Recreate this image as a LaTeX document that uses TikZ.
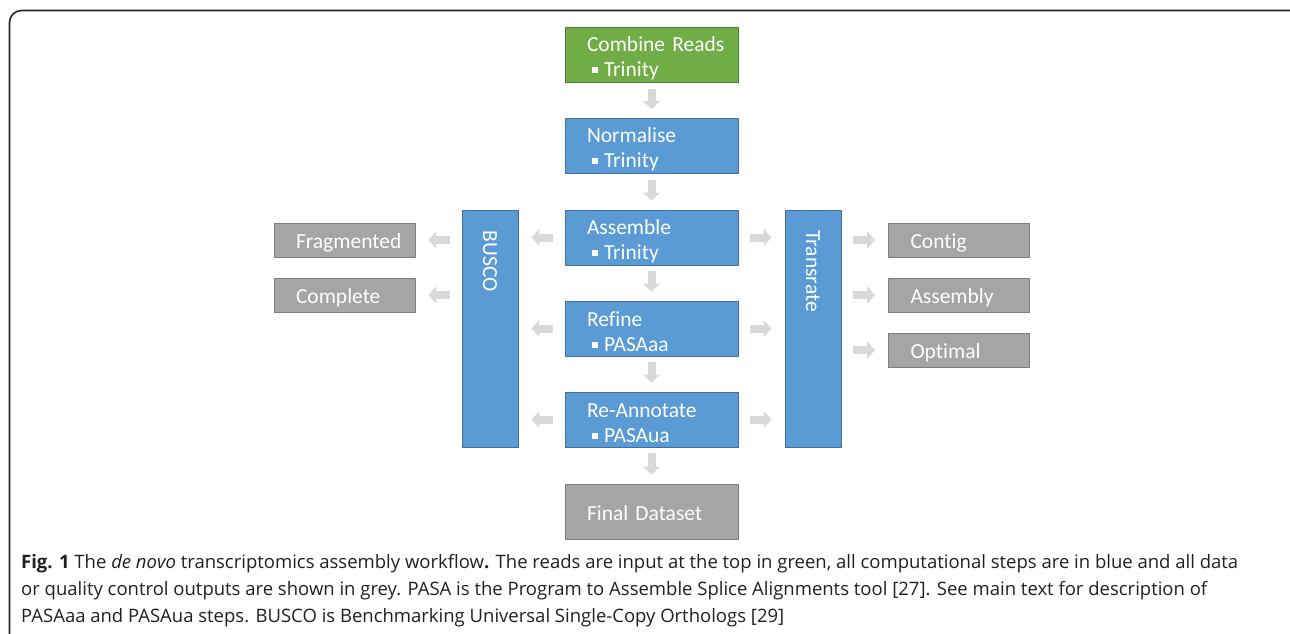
\documentclass[tikz,border=0pt]{standalone}
\usepackage{fontspec}
\setmainfont[Ligatures=NoCommon]{Carlito}
\newfontfamily\capfont{Open Sans}
\usepackage{xcolor}
\usepackage{tikz}
\usetikzlibrary{positioning,calc,arrows.meta}

\definecolor{stepblue}{HTML}{5B9BD5}
\definecolor{stepblueline}{HTML}{41719C}
\definecolor{readgreen}{HTML}{70AD47}
\definecolor{readgreenline}{HTML}{507E32}
\definecolor{outgrey}{HTML}{A5A5A5}
\definecolor{outgreyline}{HTML}{7F7F7F}
\definecolor{flowgrey}{HTML}{D9D9D9}
\definecolor{captext}{HTML}{231F20}

\newcommand{\bulletsq}{\hspace*{5pt}\raisebox{3.5pt}{\rule{6pt}{6pt}}\hspace{6pt}}

\tikzset{
    box/.style={rectangle, draw, line width=0.9pt, text=white, anchor=center,
        inner xsep=0pt, inner ysep=0pt, align=left,
        font=\fontsize{21.5}{25}\selectfont},
    % text inset 22pt from the left, nudged down a little
    inset/.style={execute at begin node={\leftskip=22pt\rule{0pt}{#1}}},
    stepbox/.style={box, fill=stepblue, draw=stepblueline, inset=22pt,
        minimum width=173pt, minimum height=55pt, text width=173pt},
    readbox/.style={stepbox, fill=readgreen, draw=readgreenline},
    finalbox/.style={box, fill=outgrey, draw=outgreyline, inset=18pt,
        minimum width=173pt, minimum height=55pt, text width=173pt},
    toolbox/.style={box, fill=stepblue, draw=stepblueline,
        minimum width=56pt, minimum height=237pt},
    outbox/.style={box, fill=outgrey, draw=outgreyline, inset=20pt,
        minimum width=141pt, minimum height=34pt, text width=141pt},
    vlabel/.style={rotate=-90, anchor=west, text=white, inner sep=0pt,
        font=\fontsize{21.5}{25}\selectfont},
    flow/.style={draw=flowgrey, line width=8pt,
        -{Triangle[width=17pt,length=8pt]}, flowgrey},
    down/.style={flow, shorten <=6pt, shorten >=9pt},
    side/.style={flow, shorten <=12pt, shorten >=13pt},
}

\begin{document}
\begin{tikzpicture}[x=1pt, y=-1pt]
    \clip (0,0) rectangle (1290,634);
    \useasboundingbox (0,0) rectangle (1290,634);

    % frame
    \draw [line width=1.6pt, rounded corners=12pt, black!85] (9.5,10.5) rectangle (1310,660);

    % main column
    \node [readbox] (comb) at (651.5,55) {Combine Reads\\\bulletsq Trinity};
    \node [stepbox] (norm) at (651.5,146) {Normalise\\\bulletsq Trinity};
    \node [stepbox] (asm) at (651.5,237.5) {Assemble\\\bulletsq Trinity};
    \node [stepbox] (ref) at (651.5,328.5) {Refine\\\bulletsq PASAaa};
    \node [stepbox] (rean) at (651.5,419.5) {Re-Annotate\\\bulletsq PASAua};
    \node [finalbox] (final) at (651.5,511.5) {Final Dataset};

    % quality tools
    \node [toolbox] (busco) at (490,328.5) {};
    \node [vlabel] (buscolab) at ([yshift=-21pt]busco.north) {BUSCO};
    \node [toolbox] (trans) at (813,328.5) {};
    \node [vlabel] (translab) at ([yshift=-21pt]trans.north) {Transrate};

    % outputs
    \node [outbox] (frag) at (344.5,240) {Fragmented};
    \node [outbox] (comp) at (344.5,295) {Complete};
    \node [outbox] (contig) at (959,240) {Contig};
    \node [outbox] (assem) at (959,295) {Assembly};
    \node [outbox] (optim) at (959,350) {Optimal};

    % arrows down the column
    \draw [down] (comb) -- (norm);
    \draw [down] (norm) -- (asm);
    \draw [down] (asm) -- (ref);
    \draw [down] (ref) -- (rean);
    \draw [down] (rean) -- (final);

    % arrows to and from the tools
    \foreach \s in {asm,ref,rean} {
        \draw [side] (\s.west) -- (\s.west -| busco.east);
        \draw [side] (\s.east) -- (\s.east -| trans.west);
    }
    \foreach \o in {frag,comp}
        \draw [side] (busco.west |- \o.east) -- (\o.east);
    \foreach \o in {contig,assem,optim}
        \draw [side] (trans.east |- \o.west) -- (\o.west);

    % caption
    \node [anchor=north west, align=left, inner sep=0pt, text=captext,
        font=\capfont\fontsize{18.5}{27}\selectfont] (cap) at (21,554)
        {\textbf{Fig. 1} The \textit{de novo} transcriptomics assembly workflow\textbf{.} The reads are input at the top in green, all computational steps are in blue and all data\\
        or quality control outputs are shown in grey. PASA is the Program to Assemble Splice Alignments tool [27]. See main text for description of\\
        PASAaa and PASAua steps. BUSCO is Benchmarking Universal Single-Copy Orthologs [29]};
\end{tikzpicture}
\end{document}
